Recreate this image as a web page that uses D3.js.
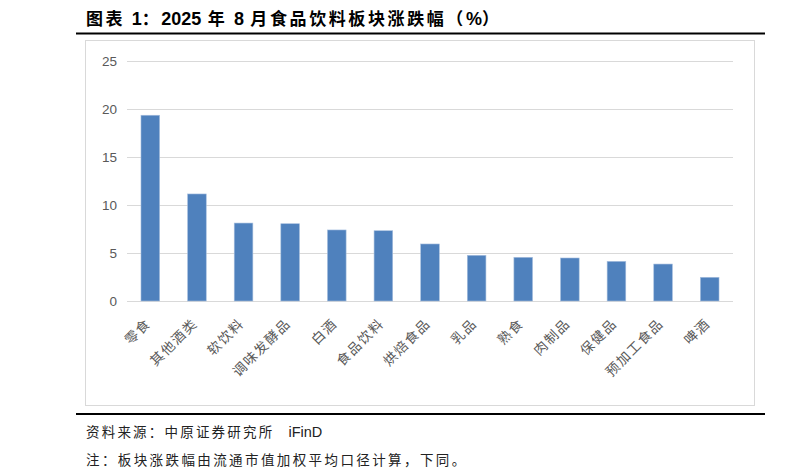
<!DOCTYPE html>
<html>
<head>
<meta charset="utf-8">
<script src="https://cdn.jsdelivr.net/npm/d3@7"></script>
<style>
  body { margin: 0; background: #fff; }
  svg { display: block; }
</style>
</head>
<body>
<div id="chart"></div>
<script>
const categories = ['零食', '其他酒类', '软饮料', '调味发酵品', '白酒', '食品饮料', '烘焙食品',
  '乳品', '熟食', '肉制品', '保健品', '预加工食品', '啤酒'];
const changes = [19.35, 11.15, 8.12, 8.05, 7.4, 7.32, 5.94, 4.76, 4.55, 4.48, 4.13, 3.85, 2.47];
const yTicks = [0, 5, 10, 15, 20, 25];

// title pieces: [text, isLatin]
const titleParts = [['图表 ', false], ['1', true], ['：', false], ['2025', true], [' 年 ', false],
  ['8', true], [' 月食品饮料板块涨跌幅（', false], ['%', true], ['）', false]];
const sourceNote = '资料来源：中原证券研究所';
const sourceTail = 'iFinD';
const footNote = '注：板块涨跌幅由流通市值加权平均口径计算，下同。';

const width = 797;
const height = 473;
const cjk = '"Noto Sans CJK SC", sans-serif';
const latin = '"Liberation Sans", Arial, sans-serif';

const svg = d3.select('#chart').append('svg')
  .attr('width', width)
  .attr('height', height);

// title + rules
const titleEl = svg.append('text')
  .attr('x', 86).attr('y', 25)
  .attr('font-size', 17)
  .attr('font-weight', 'bold')
  .attr('fill', '#000');
titleParts.forEach(([t, isLatin]) => {
  titleEl.append('tspan')
    .attr('font-family', isLatin ? latin : cjk)
    .attr('font-size', isLatin ? 18 : 17)
    .attr('letter-spacing', isLatin ? 0 : 2.6)
    .text(t);
});

[33.5, 414].forEach(yy => {
  svg.append('line')
    .attr('x1', 76).attr('x2', 765)
    .attr('y1', yy).attr('y2', yy)
    .attr('stroke', '#000')
    .attr('stroke-width', 2.2);
});

// chart frame
svg.append('rect')
  .attr('x', 85.5).attr('y', 40.5)
  .attr('width', 669).attr('height', 365)
  .attr('fill', 'none')
  .attr('stroke', '#d9d9d9')
  .attr('stroke-width', 1);

const x = d3.scaleBand()
  .domain(categories)
  .range([127, 733])
  .paddingInner(0.6)
  .paddingOuter(0.3);

const y = d3.scaleLinear()
  .domain([0, 25])
  .range([301, 61]);

// grid
svg.append('g')
  .selectAll('line')
  .data(yTicks)
  .join('line')
  .attr('x1', 127).attr('x2', 733)
  .attr('y1', d => Math.round(y(d)) + 0.5)
  .attr('y2', d => Math.round(y(d)) + 0.5)
  .attr('stroke', '#d9d9d9')
  .attr('stroke-width', 1);

// y axis labels
const yAxis = d3.axisLeft(y).tickValues(yTicks).tickSize(0).tickPadding(0);
svg.append('g')
  .attr('transform', 'translate(117,0)')
  .call(yAxis)
  .call(g => g.select('.domain').remove())
  .call(g => g.selectAll('text')
    .attr('font-family', latin)
    .attr('font-size', 13.5)
    .attr('fill', '#595959'));

// bars
svg.append('g')
  .selectAll('rect')
  .data(categories)
  .join('rect')
  .attr('x', d => x(d))
  .attr('width', x.bandwidth())
  .attr('y', (d, i) => y(changes[i]))
  .attr('height', (d, i) => y(0) - y(changes[i]))
  .attr('fill', '#4f81bd')
  .attr('stroke', '#a7bfde')
  .attr('stroke-width', 0.6);

// category labels
svg.append('g')
  .selectAll('text')
  .data(categories)
  .join('text')
  .attr('transform', d => `translate(${x(d) + x.bandwidth() / 2 - 2},${321}) rotate(-45)`)
  .attr('text-anchor', 'end')
  .attr('dy', '0.35em')
  .attr('font-family', cjk)
  .attr('font-size', 13.5)
  .attr('letter-spacing', 1.5)
  .attr('fill', '#595959')
  .text(d => d);

// footer
const src = svg.append('text')
  .attr('x', 86).attr('y', 437)
  .attr('font-family', cjk)
  .attr('font-size', 13.5)
  .attr('letter-spacing', 2.2)
  .attr('fill', '#222');
src.append('tspan').text(sourceNote);
src.append('tspan')
  .attr('dx', 14)
  .attr('letter-spacing', 0)
  .attr('font-family', latin)
  .attr('font-size', 14.5)
  .text(sourceTail);

svg.append('text')
  .attr('x', 86).attr('y', 465)
  .attr('font-family', cjk)
  .attr('font-size', 13.5)
  .attr('letter-spacing', 2.4)
  .attr('fill', '#222')
  .text(footNote);
</script>
</body>
</html>
